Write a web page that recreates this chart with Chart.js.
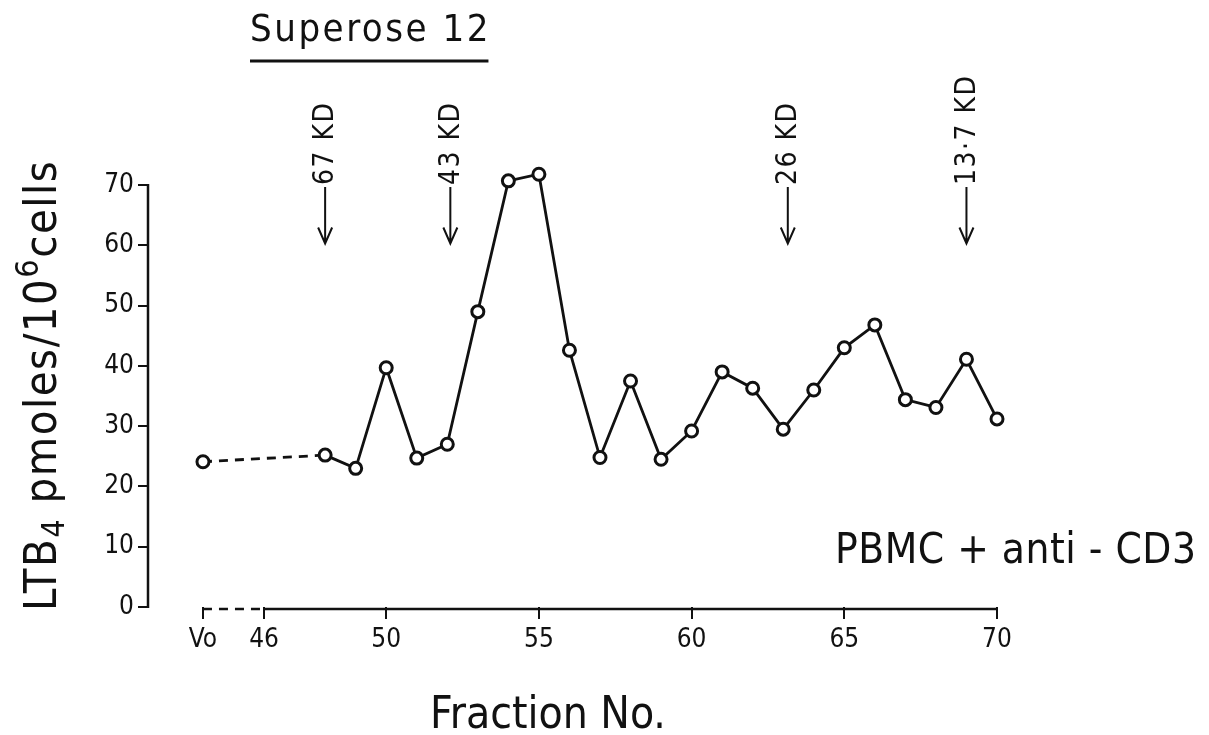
<!DOCTYPE html>
<html>
<head>
<meta charset="utf-8">
<script src="https://cdn.jsdelivr.net/npm/chart.js@4"></script>
<style>
    html, body { margin: 0; padding: 0; background: #ffffff; }
    #wrap { width: 1209px; height: 735px; }
</style>
</head>
<body>
<div id="wrap"><canvas id="fractionChart" width="1209" height="735"></canvas></div>
<script>
// fraction number (Vo plotted at 44) and LTB4 values
const fractions = [44, 48, 49, 50, 51, 52, 53, 54, 55, 56, 57, 58, 59, 60, 61, 62, 63, 64, 65, 66, 67, 68, 69, 70];
const ltb4 = [24.1, 25.2, 23.0, 39.7, 24.7, 27.0, 49.0, 70.7, 71.8, 42.6, 24.8, 37.5, 24.5, 29.2, 39.0, 36.3, 29.5, 36.0, 43.0, 46.8, 34.4, 33.1, 41.1, 31.2];

const xTickValues = [44, 46, 50, 55, 60, 65, 70];
const xTickLabels = ['Vo', '46', '50', '55', '60', '65', '70'];
const yTickValues = [0, 10, 20, 30, 40, 50, 60, 70];

// molecular weight markers
const markerFractions = [48, 52.1, 63.15, 69];
const markerLabels = ['67 KD', '43 KD', '26 KD', '13·7 KD'];

const FONT = "'DejaVu Sans Condensed', 'DejaVu Sans', sans-serif";
const INK = '#111111';

const overlay = {
    id: 'overlay',
    afterDraw(chart) {
        const ctx = chart.ctx;
        const x = chart.scales.x;
        const y = chart.scales.y;
        const area = chart.chartArea;
        ctx.save();
        ctx.strokeStyle = INK;
        ctx.fillStyle = INK;
        ctx.lineCap = 'butt';

        // y axis line, 0 to 70 only
        ctx.lineWidth = 2.5;
        ctx.beginPath();
        ctx.moveTo(area.left, y.getPixelForValue(0) + 1);
        ctx.lineTo(area.left, y.getPixelForValue(70) - 1);
        ctx.stroke();

        // x axis line: dashed from Vo to 46, solid after
        const axisY = area.bottom + 2;
        ctx.setLineDash([9, 7]);
        ctx.beginPath();
        ctx.moveTo(x.getPixelForValue(44), axisY);
        ctx.lineTo(x.getPixelForValue(46), axisY);
        ctx.stroke();
        ctx.setLineDash([]);
        ctx.beginPath();
        ctx.moveTo(x.getPixelForValue(46), axisY);
        ctx.lineTo(x.getPixelForValue(70), axisY);
        ctx.stroke();

        // title
        ctx.font = '38px ' + FONT;
        ctx.letterSpacing = '2.5px';
        ctx.textBaseline = 'alphabetic';
        ctx.textAlign = 'left';
        ctx.fillText('Superose 12', 250, 41);
        const tw = ctx.measureText('Superose 12').width - 2.5;
        ctx.lineWidth = 3;
        ctx.beginPath();
        ctx.moveTo(250, 61);
        ctx.lineTo(250 + tw, 61);
        ctx.stroke();

        // x axis title
        ctx.font = '44px ' + FONT;
        ctx.letterSpacing = '0px';
        ctx.textAlign = 'center';
        ctx.fillText('Fraction No.', 548, 728);

        // inside label
        ctx.font = '42px ' + FONT;
        ctx.letterSpacing = '0.5px';
        ctx.textAlign = 'left';
        ctx.fillText('PBMC + anti - CD3', 835, 563);

        // y axis title with sub/superscript
        ctx.save();
        ctx.translate(56, 611);
        ctx.rotate(-Math.PI / 2);
        ctx.letterSpacing = '1.5px';
        const parts = [
            { t: 'LTB', s: 45, dy: 0 },
            { t: '4', s: 32, dy: 8 },
            { t: ' pmoles/10', s: 45, dy: 0 },
            { t: '6', s: 32, dy: -18 },
            { t: 'cells', s: 45, dy: 0 }
        ];
        let cx = 0;
        ctx.textAlign = 'left';
        parts.forEach(p => {
            ctx.font = p.s + 'px ' + FONT;
            ctx.fillText(p.t, cx, p.dy);
            cx += ctx.measureText(p.t).width;
        });
        ctx.restore();

        // marker arrows
        ctx.lineWidth = 2;
        ctx.letterSpacing = '1.5px';
        markerFractions.forEach((f, i) => {
            const px = x.getPixelForValue(f);
            const top = y.getPixelForValue(69);
            const tip = y.getPixelForValue(60.3);
            ctx.beginPath();
            ctx.moveTo(px, top - 4);
            ctx.lineTo(px, tip);
            ctx.moveTo(px - 7, tip - 16);
            ctx.lineTo(px, tip);
            ctx.lineTo(px + 7, tip - 16);
            ctx.stroke();
            ctx.save();
            ctx.translate(px, top - 4);
            ctx.rotate(-Math.PI / 2);
            ctx.font = '28px ' + FONT;
            ctx.textAlign = 'left';
            ctx.textBaseline = 'middle';
            ctx.fillText(markerLabels[i], 2, 1);
            ctx.restore();
        });
        ctx.restore();
    }
};

new Chart(document.getElementById('fractionChart'), {
    type: 'line',
    data: {
        datasets: [{
            data: fractions.map((f, i) => ({ x: f, y: ltb4[i] })),
            borderColor: INK,
            borderWidth: 2.8,
            pointRadius: 6,
            pointBorderWidth: 3,
            pointBorderColor: INK,
            pointBackgroundColor: '#ffffff',
            tension: 0,
            clip: false,
            segment: {
                borderDash: c => c.p0DataIndex === 0 ? [9, 7] : undefined
            }
        }]
    },
    options: {
        responsive: false,
        animation: false,
        devicePixelRatio: 1,
        layout: { padding: { left: 0, top: 173, right: 212, bottom: 0 } },
        plugins: { legend: { display: false }, tooltip: { enabled: false } },
        scales: {
            x: {
                type: 'linear',
                min: 42.2,
                max: 70,
                afterBuildTicks: s => { s.ticks = xTickValues.map(v => ({ value: v })); },
                afterFit: s => { s.height = 128; },
                border: { display: false },
                grid: { drawOnChartArea: false, drawTicks: true, tickLength: 12, color: INK, lineWidth: 2 },
                ticks: {
                    color: INK,
                    font: { size: 26, family: FONT },
                    padding: 6,
                    maxRotation: 0,
                    autoSkip: false,
                    callback: v => xTickLabels[xTickValues.indexOf(v)]
                }
            },
            y: {
                min: 0,
                max: 72,
                afterBuildTicks: s => { s.ticks = yTickValues.map(v => ({ value: v })); },
                afterFit: s => { s.width = 148; },
                border: { display: false },
                grid: { drawOnChartArea: false, drawTicks: true, tickLength: 10, color: INK, lineWidth: 2 },
                ticks: {
                    color: INK,
                    font: { size: 26, family: FONT },
                    padding: 4
                }
            }
        }
    },
    plugins: [overlay]
});
</script>
</body>
</html>
